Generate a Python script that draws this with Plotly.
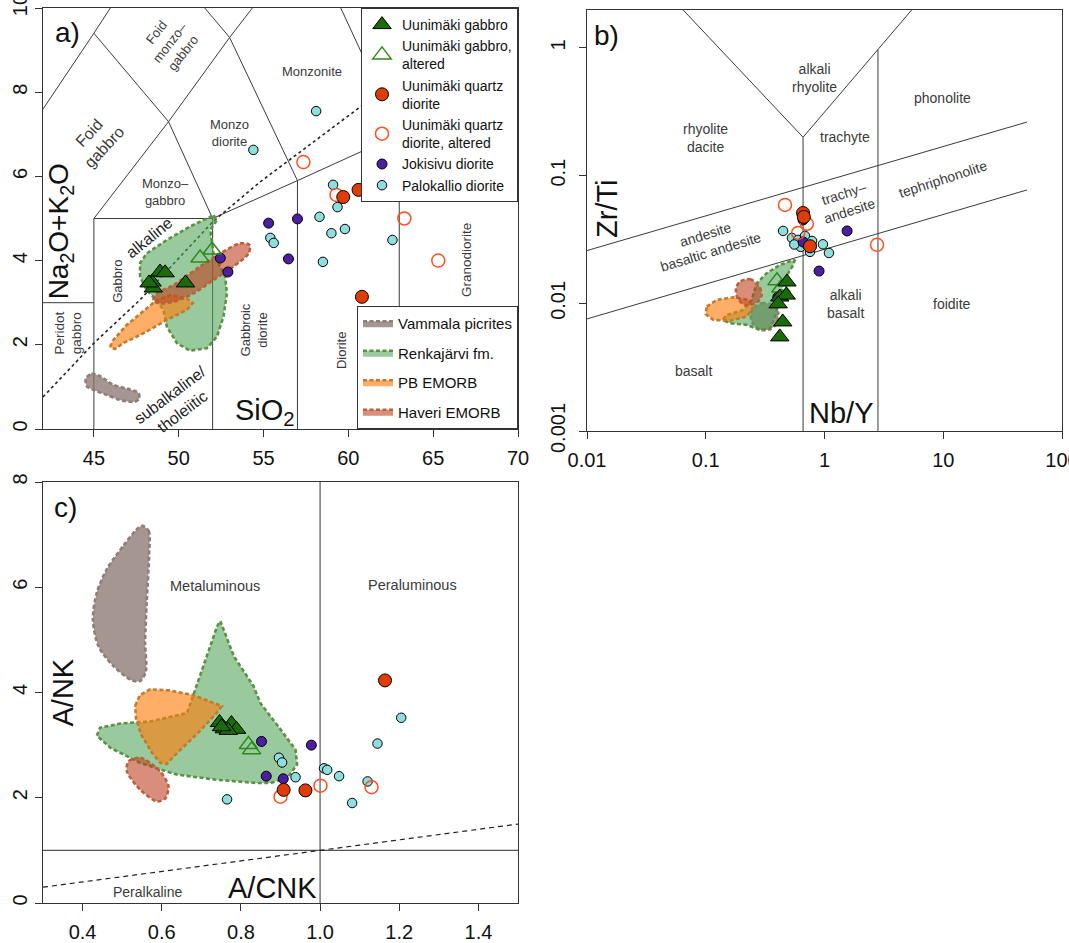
import numpy as np
import plotly.graph_objects as go

FONT = "Liberation Sans, Arial, Helvetica, sans-serif"
W, H = 1069, 943

# ---------------- a) TAS (SiO2 vs Na2O+K2O) ----------------
a_gab_x = [48.43, 48.9, 49.2, 48.5, 48.25, 50.4]
a_gab_y = [3.49, 3.73, 3.71, 3.35, 3.47, 3.47]
a_gabalt_x = [51.26, 51.97]
a_gabalt_y = [4.06, 4.25]
a_qd_x = [59.7, 60.6, 60.8]
a_qd_y = [5.51, 5.68, 3.14]
a_qdalt_x = [57.35, 59.3, 63.3, 65.3]
a_qdalt_y = [6.34, 5.56, 5.0, 4.0]
a_jok_x = [52.45, 52.9, 55.3, 57.0, 56.47]
a_jok_y = [4.06, 3.73, 4.89, 4.99, 4.04]
a_pal_x = [54.4, 58.1, 59.1, 59.36, 58.3, 59.0, 59.8, 55.4, 55.6, 62.6, 58.5]
a_pal_y = [6.63, 7.55, 5.8, 5.27, 5.04, 4.65, 4.75, 4.54, 4.42, 4.49, 3.97]

a_vam_x = [44.53, 44.86, 45.35, 46.14, 47.13, 47.62, 47.68, 47.42, 46.54, 45.75, 44.96, 44.57]
a_vam_y = [1.20, 1.31, 1.26, 1.05, 0.94, 0.86, 0.73, 0.65, 0.69, 0.81, 0.93, 1.02]
a_ren_x = [52.05, 52.25, 51.86, 52.05, 52.74, 52.84, 52.64, 52.25, 51.66, 50.67, 49.89,
           49.30, 49.10, 48.70, 48.11, 47.72, 47.72, 48.11, 49.30, 50.67, 51.66]
a_ren_y = [5.08, 4.96, 4.73, 4.17, 3.62, 3.22, 2.67, 2.19, 1.92, 1.86, 2.04,
           2.43, 2.83, 3.06, 3.30, 3.62, 3.94, 4.17, 4.49, 4.81, 5.00]
a_pb_x = [45.95, 46.14, 46.93, 47.91, 48.70, 49.49, 50.48, 50.83, 50.48, 49.30, 47.91, 46.73, 46.24]
a_pb_y = [1.95, 2.11, 2.47, 2.79, 3.06, 3.18, 3.10, 2.99, 2.83, 2.59, 2.27, 2.04, 1.90]
a_hav_x = [48.51, 48.70, 49.69, 51.26, 52.45, 53.63, 54.18, 54.12, 53.23, 52.05, 50.87, 49.69, 48.80]
a_hav_y = [3.06, 3.22, 3.42, 3.86, 4.17, 4.41, 4.37, 4.17, 3.86, 3.54, 3.22, 3.02, 2.99]

# field boundaries (Middlemost plutonic TAS)
tas_x = [45, 45, None, 52, 52, None, 57, 57, None, 63, 63, None, 42, 45, None, 45, 52, None,
         45, 49.4, 53, 57.6, None, 49.4, 52, None, 52, 57, 63, None, 41, 45, 48.4, None,
         45, 49.4, None, 53, 48.4, None, 53, 57, None, 57.6, 63]
tas_y = [0, 5, None, 0, 5, None, 0, 5.9, None, 0, 7, None, 3, 3, None, 5, 5, None,
         5, 7.3, 9.3, 11.7, None, 7.3, 5, None, 5, 5.9, 7, None, 7, 9.4, 11.5, None,
         9.4, 7.3, None, 9.3, 11.5, None, 9.3, 5.9, None, 11.7, 7]
alk_x = [42, 45, 47.7, 52, 54.8, 61.1, 63]
alk_y = [0.76, 2.04, 3.06, 4.92, 5.87, 7.77, 8.3]

# ---------------- b) Zr/Ti vs Nb/Y ----------------
b_gab_x = [0.42, 0.483, 0.476, 0.407, 0.445, 0.42]
b_gab_y = [0.0112, 0.0147, 0.0116, 0.0099, 0.00715, 0.00546]
b_gabalt_x = [0.398, 0.43]
b_gabalt_y = [0.015, 0.0132]
b_qd_x = [0.66, 0.67, 0.755]
b_qd_y = [0.051, 0.0475, 0.028]
b_qdalt_x = [0.465, 0.6, 2.77, 0.71]
b_qdalt_y = [0.059, 0.0356, 0.0287, 0.042]
b_jok_x = [0.405, 1.55, 0.9, 0.66, 0.66]
b_jok_y = [0.0112, 0.0369, 0.0179, 0.045, 0.0303]
b_pal_x = [0.448, 0.532, 0.6, 0.685, 0.785, 0.755, 0.97, 1.09, 0.63, 0.72, 0.557]
b_pal_y = [0.0369, 0.0325, 0.0314, 0.0337, 0.0308, 0.0253, 0.029, 0.0248, 0.0277, 0.0282, 0.0289]

b_vam_x = [0.251, 0.296, 0.371, 0.408, 0.395, 0.348, 0.286, 0.248, 0.239]
b_vam_y = [0.00916, 0.01002, 0.0097, 0.00836, 0.00698, 0.00627, 0.0062, 0.00698, 0.0081]
b_ren_x = [0.565, 0.546, 0.465, 0.422, 0.383, 0.348, 0.286, 0.221, 0.160, 0.139, 0.150,
           0.207, 0.244, 0.269, 0.326, 0.422]
b_ren_y = [0.0221, 0.0200, 0.0157, 0.01127, 0.00787, 0.00638, 0.0062, 0.00678, 0.00698,
           0.00741, 0.0081, 0.00887, 0.01064, 0.01435, 0.01722, 0.0200]
b_pb_x = [0.102, 0.124, 0.171, 0.228, 0.251, 0.221, 0.160, 0.116, 0.100]
b_pb_y = [0.00942, 0.01064, 0.01117, 0.01064, 0.00931, 0.00787, 0.00731, 0.00741, 0.00822]
b_hav_x = [0.194, 0.236, 0.277, 0.296, 0.269, 0.214, 0.185, 0.180]
b_hav_y = [0.01479, 0.01545, 0.01393, 0.01164, 0.01014, 0.0097, 0.01096, 0.01312]

wf_x = [0.064, 0.66, 5.46, None, 0.66, 0.66, None, 2.82, 2.82, None, 0.01, 50.7, None, 0.01, 50.7]
wf_y = [2.0, 0.2, 2.0, None, 0.2, 0.001, None, 0.97, 0.001, None, 0.0259, 0.263, None, 0.00755, 0.0773]

# ---------------- c) A/NK vs A/CNK ----------------
c_gab_x = [0.746, 0.758, 0.776, 0.789, 0.768, 0.751]
c_gab_y = [3.43, 3.31, 3.41, 3.30, 3.28, 3.35]
c_gabalt_x = [0.819, 0.827]
c_gabalt_y = [3.01, 2.91]
c_qd_x = [0.908, 0.963, 1.164]
c_qd_y = [2.15, 2.14, 4.23]
c_qdalt_x = [0.9, 1.001, 1.13]
c_qdalt_y = [2.02, 2.23, 2.2]
c_jok_x = [0.852, 0.864, 0.978, 0.907]
c_jok_y = [3.07, 2.41, 3.0, 2.36]
c_pal_x = [0.765, 0.896, 0.904, 0.938, 1.01, 1.018, 1.048, 1.12, 1.081, 1.145, 1.205]
c_pal_y = [1.97, 2.76, 2.67, 2.39, 2.56, 2.53, 2.41, 2.31, 1.9, 3.03, 3.52]

c_vam_x = [0.550, 0.567, 0.568, 0.562, 0.558, 0.560, 0.546, 0.525, 0.478, 0.440, 0.426,
           0.436, 0.461, 0.503, 0.533]
c_vam_y = [7.17, 7.07, 6.60, 5.71, 4.95, 4.41, 4.22, 4.23, 4.50, 4.88, 5.39, 5.90, 6.34, 6.79, 7.07]
c_ren_x = [0.748, 0.782, 0.832, 0.849, 0.9, 0.938, 0.942, 0.917, 0.875, 0.841, 0.74, 0.638,
           0.546, 0.47, 0.436, 0.444, 0.495, 0.571, 0.664, 0.697, 0.727, 0.740]
c_ren_y = [5.36, 4.69, 4.12, 3.80, 3.30, 2.91, 2.63, 2.38, 2.28, 2.28, 2.34, 2.44,
           2.66, 2.95, 3.18, 3.33, 3.41, 3.45, 3.61, 4.31, 4.95, 5.26]
c_pb_x = [0.533, 0.545, 0.571, 0.62, 0.68, 0.752, 0.735, 0.69, 0.64, 0.612, 0.597, 0.575, 0.548, 0.535]
c_pb_y = [3.75, 3.95, 4.06, 4.04, 3.95, 3.74, 3.58, 3.22, 2.86, 2.64, 2.66, 2.86, 3.2, 3.5]
c_hav_x = [0.516, 0.546, 0.596, 0.617, 0.609, 0.588, 0.546, 0.512]
c_hav_y = [2.69, 2.76, 2.5, 2.22, 1.99, 1.93, 2.15, 2.5]

shand_x = [1.0, 1.0, None, 0.3, 1.5]
shand_y = [0, 8, None, 1, 1]
anck_x = [0.3, 1.5]
anck_y = [0.3, 1.5]

# ---------------- styles ----------------
SERIES = [
    ("Uunimäki gabbro", dict(symbol="triangle-up", size=16, color="#1b6b0c", line=dict(color="black", width=1))),
    ("Uunimäki gabbro,<br>altered", dict(symbol="triangle-up-open", size=16, color="#2b8a1c", line=dict(width=1.5))),
    ("Uunimäki quartz<br>diorite", dict(symbol="circle", size=13, color="#e03c08", line=dict(color="black", width=1))),
    ("Uunimäki quartz<br>diorite, altered", dict(symbol="circle-open", size=13, color="#ff4f1f", line=dict(width=1.5))),
    ("Jokisivu diorite", dict(symbol="circle", size=10, color="#4b1fa0", line=dict(color="black", width=1))),
    ("Palokallio diorite", dict(symbol="circle", size=9.5, color="#8fdede", line=dict(color="black", width=1))),
]
FIELDS = [
    ("Vammala picrites", "rgba(135,115,108,0.75)", "#8e7e78", "spline"),
    ("Renkajärvi fm.", "rgba(80,163,88,0.58)", "#5f8f45", "linear"),
    ("PB EMORB", "rgba(255,125,10,0.62)", "#c47a2c", "linear"),
    ("Haveri EMORB", "rgba(190,60,30,0.58)", "#b8623c", "spline"),
]

panels = {
    "a": dict(xa="x", ya="y",
              pts=[(a_gab_x, a_gab_y), (a_gabalt_x, a_gabalt_y), (a_qd_x, a_qd_y),
                   (a_qdalt_x, a_qdalt_y), (a_jok_x, a_jok_y), (a_pal_x, a_pal_y)],
              polys=[(a_vam_x, a_vam_y), (a_ren_x, a_ren_y), (a_pb_x, a_pb_y), (a_hav_x, a_hav_y)]),
    "b": dict(xa="x2", ya="y2",
              pts=[(b_gab_x, b_gab_y), (b_gabalt_x, b_gabalt_y), (b_qd_x, b_qd_y),
                   (b_qdalt_x, b_qdalt_y), (b_jok_x, b_jok_y), (b_pal_x, b_pal_y)],
              polys=[(b_vam_x, b_vam_y), (b_ren_x, b_ren_y), (b_pb_x, b_pb_y), (b_hav_x, b_hav_y)]),
    "c": dict(xa="x3", ya="y3",
              pts=[(c_gab_x, c_gab_y), (c_gabalt_x, c_gabalt_y), (c_qd_x, c_qd_y),
                   (c_qdalt_x, c_qdalt_y), (c_jok_x, c_jok_y), (c_pal_x, c_pal_y)],
              polys=[(c_vam_x, c_vam_y), (c_ren_x, c_ren_y), (c_pb_x, c_pb_y), (c_hav_x, c_hav_y)]),
}

fig = go.Figure()

LINE = dict(color="#3a3a3a", width=1)

# classification lines
fig.add_trace(go.Scatter(x=tas_x, y=tas_y, mode="lines", line=LINE, showlegend=False,
                         hoverinfo="skip", xaxis="x", yaxis="y"))
fig.add_trace(go.Scatter(x=alk_x, y=alk_y, mode="lines", showlegend=False, hoverinfo="skip",
                         line=dict(color="#222", width=1.6, dash="3px,3px"), xaxis="x", yaxis="y"))
fig.add_trace(go.Scatter(x=wf_x, y=wf_y, mode="lines", line=LINE, showlegend=False,
                         hoverinfo="skip", xaxis="x2", yaxis="y2"))
fig.add_trace(go.Scatter(x=shand_x, y=shand_y, mode="lines", showlegend=False, hoverinfo="skip",
                         line=dict(color="#555", width=1.2), xaxis="x3", yaxis="y3"))
fig.add_trace(go.Scatter(x=anck_x, y=anck_y, mode="lines", showlegend=False, hoverinfo="skip",
                         line=dict(color="#222", width=1.2, dash="5px,4px"), xaxis="x3", yaxis="y3"))

# reference fields
for key, p in panels.items():
    for i, ((xs, ys), (name, fc, lc, shp)) in enumerate(zip(p["polys"], FIELDS)):
        fig.add_trace(go.Scatter(
            x=list(xs) + [xs[0]], y=list(ys) + [ys[0]], mode="lines", fill="toself",
            fillcolor=fc, line=dict(color=lc, width=2.6, dash="4px,2.5px", shape=shp, smoothing=0.8),
            name=name, legendgroup=name, showlegend=(key == "a"), legend="legend2",
            legendrank=100 + i, hoverinfo="skip", xaxis=p["xa"], yaxis=p["ya"]))

# samples (drawn back to front; legend order set by rank)
draw_order = [5, 4, 3, 2, 1, 0]
for key, p in panels.items():
    for i in draw_order:
        name, mk = SERIES[i]
        xs, ys = p["pts"][i]
        fig.add_trace(go.Scatter(
            x=xs, y=ys, mode="markers", marker=mk, name=name, legendgroup="s%d" % i,
            showlegend=(key == "a"), legend="legend", legendrank=i + 1,
            hoverinfo="skip", xaxis=p["xa"], yaxis=p["ya"]))

# text labels
TXT = "#3a3a3a"
labels_a = [
    ("a)", 43.46, 9.43, 0, 28, "#111"),
    ("Foid<br>monzo–<br>gabbro", 49.5, 9.17, -52, 13, TXT),
    ("Foid<br>gabbro", 45.18, 6.86, -47, 16, TXT),
    ("Monzo<br>diorite", 53.0, 7.03, 0, 13, TXT),
    ("Monzo–<br>gabbro", 49.24, 5.64, 0, 13, TXT),
    ("Monzonite", 57.88, 8.48, 0, 13, TXT),
    ("Gabbro", 46.42, 3.52, -90, 13, TXT),
    ("alkaline", 48.27, 4.55, -39, 16, "#222"),
    ("Peridot<br>gabbro", 43.48, 2.27, -90, 13.5, TXT),
    ("subalkaline/<br>tholeiitic", 49.89, 0.61, -37, 16, "#222"),
    ("Gabbroic<br>diorite", 54.46, 2.35, -90, 13, TXT),
    ("Diorite", 59.64, 1.88, -90, 13, TXT),
    ("Granodiorite", 66.93, 4.01, -90, 13.5, TXT),
    ("SiO<sub>2</sub>", 55.1, 0.40, 0, 29, "#111"),
    ("Na<sub>2</sub>O+K<sub>2</sub>O", 43.05, 4.69, -90, 28, "#111"),
]
labels_b = [
    ("b)", 0.01472, 1.242, 0, 28, "#111"),
    ("alkali<br>rhyolite", 0.816, 0.582, 0, 14, TXT),
    ("rhyolite<br>dacite", 0.0986, 0.196, 0, 14, TXT),
    ("phonolite", 9.95, 0.405, 0, 14, TXT),
    ("trachyte", 1.49, 0.202, 0, 14, TXT),
    ("trachy–<br>andesite", 1.54, 0.0625, -18, 14, TXT),
    ("tephriphonolite", 10.0, 0.0938, -18, 14, TXT),
    ("andesite<br>basaltic andesite", 0.105, 0.0295, -17, 14, TXT),
    ("basalt", 0.0796, 0.00297, 0, 14, TXT),
    ("alkali<br>basalt", 1.51, 0.00989, 0, 14, TXT),
    ("foidite", 11.8, 0.00989, 0, 14, TXT),
    ("Zr/Ti", 0.01472, 0.0558, -90, 29, "#111"),
    ("Nb/Y", 1.38, 0.00139, 0, 29, "#111"),
]
labels_c = [
    ("c)", 0.358, 7.52, 0, 28, "#111"),
    ("Metaluminous", 0.735, 6.02, 0, 14.5, TXT),
    ("Peraluminous", 1.234, 6.04, 0, 14.5, TXT),
    ("Peralkaline", 0.563, 0.21, 0, 14, TXT),
    ("A/CNK", 0.88, 0.28, 0, 29, "#111"),
    ("A/NK", 0.348, 4.0, -90, 29, "#111"),
]

annotations = []
for labels, xr, yr, logaxes in [(labels_a, "x", "y", False), (labels_b, "x2", "y2", True),
                                 (labels_c, "x3", "y3", False)]:
    for text, lx, ly, ang, sz, col in labels:
        if logaxes:
            lx, ly = np.log10(lx), np.log10(ly)
        annotations.append(dict(text=text, x=lx, y=ly, xref=xr, yref=yr, showarrow=False,
                                textangle=ang, font=dict(size=sz, color=col, family=FONT),
                                xanchor="center", yanchor="middle"))

AX = dict(showline=True, mirror=True, linecolor="#333", linewidth=1.2, ticks="outside",
          ticklen=7, tickwidth=1.2, tickcolor="#333", showgrid=False, zeroline=False,
          automargin=False, ticklabeloverflow="allow",
          tickfont=dict(size=20, color="#111", family=FONT))


def px_dom(a, b, total):
    return [a / total, b / total]


fig.update_layout(
    template="none",
    width=W, height=H, margin=dict(l=0, r=0, t=0, b=0, pad=0, autoexpand=False),
    paper_bgcolor="white", plot_bgcolor="white",
    font=dict(family=FONT, color="#111"),
    showlegend=True,
    xaxis=dict(AX, domain=px_dom(43, 518, W), range=[42, 70], tickvals=[45, 50, 55, 60, 65, 70],
               anchor="y", ticklabelstandoff=4),
    yaxis=dict(AX, domain=[1 - 429 / H, 1 - 8 / H], range=[0, 10], tickvals=[0, 2, 4, 6, 8, 10],
               tickangle=-90, anchor="x"),
    xaxis2=dict(AX, domain=px_dom(587, 1062, W), type="log", range=[-2, 2],
                tickvals=[0.01, 0.1, 1, 10, 100], ticktext=["0.01", "0.1", "1", "10", "100"],
                anchor="y2", ticklabelstandoff=4),
    yaxis2=dict(AX, domain=[1 - 431 / H, 1 - 10 / H], type="log", range=[-3, 0.2976],
                tickvals=[0.001, 0.01, 0.1, 1], ticktext=["0.001", "0.01", "0.1", "1"],
                tickangle=-90, anchor="x2", ticklabelstandoff=6),
    xaxis3=dict(AX, domain=px_dom(43, 518, W), range=[0.3, 1.5],
                tickvals=[0.4, 0.6, 0.8, 1.0, 1.2, 1.4],
                ticktext=["0.4", "0.6", "0.8", "1.0", "1.2", "1.4"], anchor="y3", ticklabelstandoff=4),
    yaxis3=dict(AX, domain=[1 - 903 / H, 1 - 482 / H], range=[0, 8], tickvals=[0, 2, 4, 6, 8],
                tickangle=-90, anchor="x3"),
    legend=dict(x=518 / W, y=1 - 8 / H, xanchor="right", yanchor="top", bgcolor="white",
                bordercolor="#333", borderwidth=1, font=dict(size=14, family=FONT, color="#111"),
                tracegroupgap=0, itemwidth=30),
    legend2=dict(x=518 / W, y=1 - 429 / H, xanchor="right", yanchor="bottom", bgcolor="white",
                 bordercolor="#333", borderwidth=1, font=dict(size=15, family=FONT, color="#111"),
                 tracegroupgap=7, itemwidth=30),
    annotations=annotations,
)

fig.write_html("out.html")
